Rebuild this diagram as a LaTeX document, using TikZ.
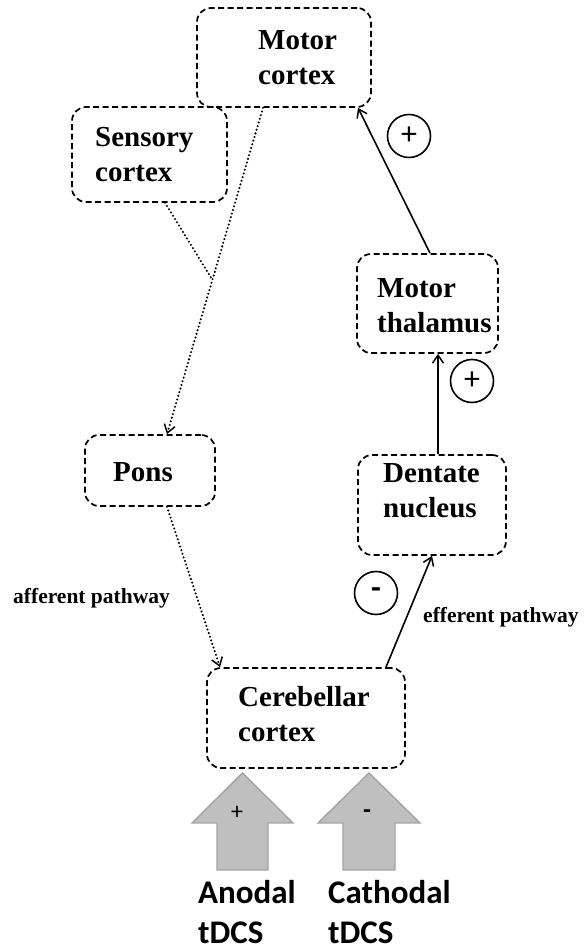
\documentclass[tikz,border=0pt]{standalone}
\usepackage{fontspec}
\setmainfont{Liberation Serif}
\newfontfamily\calib{Carlito}
\usepackage{xcolor}
\usepackage{tikz}
\usetikzlibrary{arrows.meta,calc}
\definecolor{shaftgray}{HTML}{BFBFBF}
\definecolor{shaftedge}{HTML}{A3A3A3}

\tikzset{
  region/.style={draw, line width=1.7pt, dash pattern=on 6pt off 3.5pt, rounded corners=14pt, inner sep=0pt},
  regiontext/.style={anchor=base west, align=left, inner sep=0pt, font=\bfseries\fontsize{29}{35.5}\selectfont},
  pathtext/.style={anchor=base west, inner sep=0pt, font=\bfseries\fontsize{21.5}{26}\selectfont},
  afferent/.style={line width=2.3pt, dash pattern=on 0pt off 3.8pt, line cap=round},
  efferent/.style={line width=1.6pt},
  tip/.style={-{Straight Barb[length=8pt,width=11pt,line width=1.5pt]}},
  sign/.style={circle, draw, line width=1.6pt, minimum size=43pt, inner sep=0pt, font=\calib\fontsize{32}{34}\selectfont},
  shaft/.style={fill=shaftgray, draw=shaftedge, line width=1.4pt},
  stimtext/.style={anchor=base west, align=left, inner sep=0pt, font=\calib\bfseries\fontsize{33}{40}\selectfont}
}

\begin{document}
\begin{tikzpicture}[x=1pt,y=1pt]
    \useasboundingbox (0,0) rectangle (587,952);

    \node[region, minimum width=174pt, minimum height=99pt] (motor) at (284,894.5) {};
    \node[region, minimum width=155pt, minimum height=95pt] (sensory) at (149.5,797.5) {};
    \node[region, minimum width=141pt, minimum height=99pt] (thalamus) at (427.5,648.5) {};
    \node[region, minimum width=148pt, minimum height=100pt] (dentate) at (432,447) {};
    \node[region, minimum width=130pt, minimum height=71pt] (pons) at (150,481.5) {};
    \node[region, minimum width=198pt, minimum height=100pt] (cereb) at (306,234) {};

    \node[regiontext] (motor-t) at (258,867) {Motor\\cortex};
    \node[regiontext] (sensory-t) at (95,770) {Sensory\\cortex};
    \node[regiontext] (thalamus-t) at (377,619) {Motor\\thalamus};
    \node[regiontext] (dentate-t) at (383,434) {Dentate\\nucleus};
    \node[regiontext] (pons-t) at (113,470) {Pons};
    \node[regiontext] (cereb-t) at (238,210) {Cerebellar\\cortex};

    \coordinate (descend) at ([xshift=-21pt]motor.south);
    \coordinate (join) at ($(descend)!0.527!([xshift=17pt]pons.north)$);
    \draw[afferent, tip] (descend) -- ([xshift=17pt]pons.north);
    \draw[afferent] ([xshift=15.5pt]sensory.south) -- (join);
    \draw[afferent, tip] ([xshift=17pt]pons.south) -- ([xshift=-86pt]cereb.north);

    \draw[efferent, tip] ([xshift=80pt]cereb.north) -- (dentate.south);
    \draw[efferent, tip] ([xshift=6pt]dentate.north) -- ([xshift=6pt]dentate.north |- thalamus.south);
    \draw[efferent, tip] ([xshift=2.5pt]thalamus.north) -- ([xshift=74pt]motor.south);

    \node[sign] (plus-top) at (409,816) {+};
    \node[sign] (plus-mid) at (472,571) {+};
    \node[sign] (minus) at (376,359) {\raisebox{-2pt}{\bfseries -}};

    \node[pathtext] (aff) at (13,348) {afferent pathway};
    \node[pathtext] (eff) at (423,329) {efferent pathway};

    \draw[shaft] (242.5,179) -- (293,129) -- (268,129) -- (268,82) -- (217,82) -- (217,129) -- (192,129) -- cycle;
    \draw[shaft] (369,179) -- (420,129) -- (395,129) -- (395,82) -- (343,82) -- (343,129) -- (318,129) -- cycle;
    \node[font=\calib\fontsize{24}{26}\selectfont] (anode) at (237,139) {+};
    \node[font=\calib\bfseries\fontsize{26}{28}\selectfont] (cathode) at (367,138) {-};

    \node[stimtext] (anodal) at (198,9) {Anodal\\tDCS};
    \node[stimtext] (cathodal) at (328,9) {Cathodal\\tDCS};
\end{tikzpicture}
\end{document}
